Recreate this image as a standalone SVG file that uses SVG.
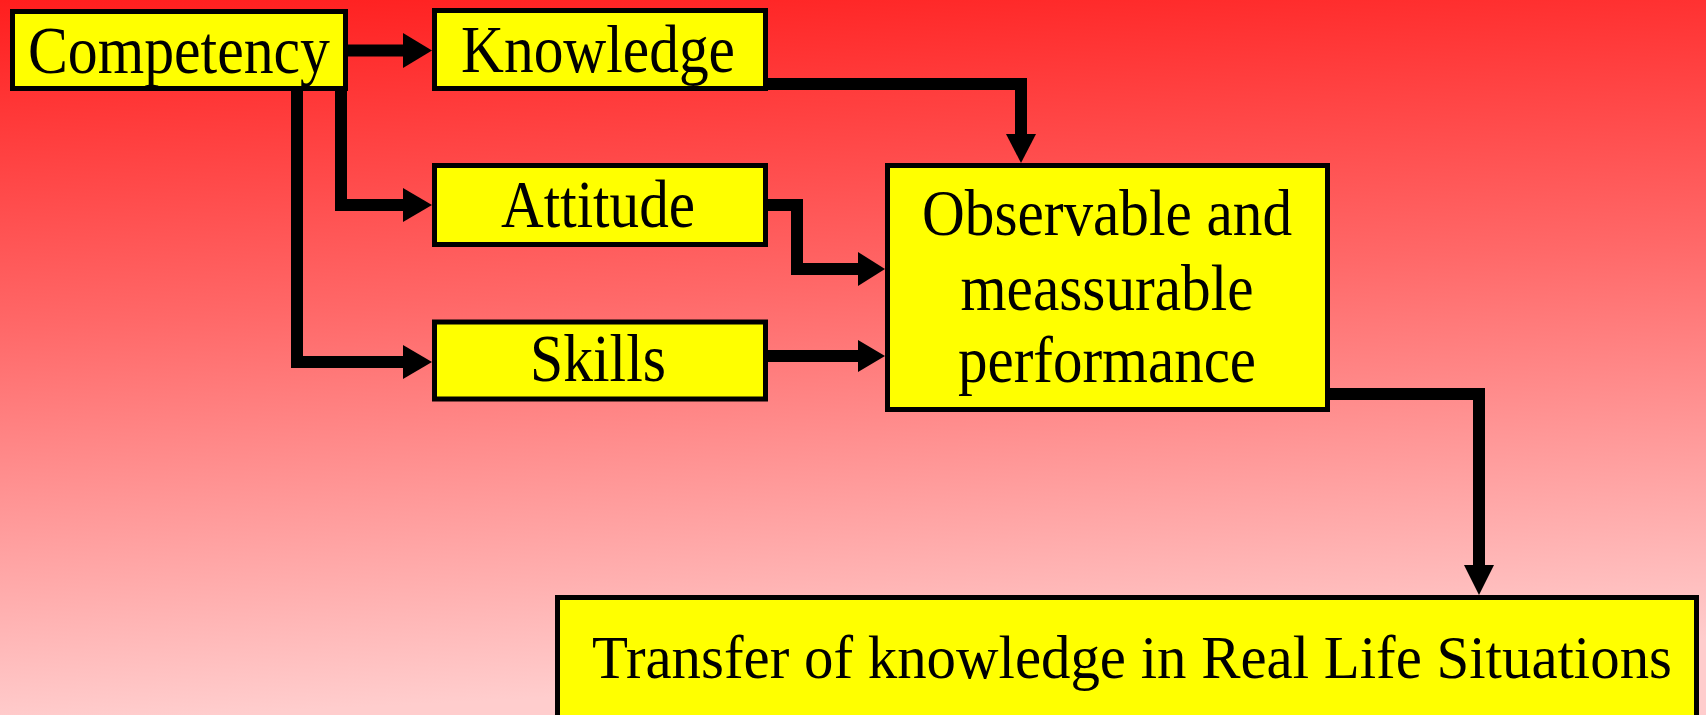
<svg xmlns="http://www.w3.org/2000/svg" width="1706" height="715" viewBox="0 0 1706 715">
  <defs>
    <linearGradient id="bg" x1="0" y1="0" x2="0.12" y2="1">
      <stop offset="0" stop-color="#ff1e1e"/>
      <stop offset="0.45" stop-color="#ff6868"/>
      <stop offset="1" stop-color="#ffcdcd"/>
    </linearGradient>
    <style>
      .box { fill: #ffff00; stroke: #000000; stroke-width: 5; }
      .lbl { font-family: "Liberation Serif", "Times New Roman", serif; font-size: 68px; fill: #000000; text-anchor: middle; }
      .mid { font-size: 66px; }
      .big { font-size: 62px; }
      .wire { fill: none; stroke: #000000; stroke-width: 12; stroke-linejoin: miter; stroke-linecap: butt; }
      .head { fill: #000000; }
    </style>
  </defs>
  <rect x="0" y="0" width="1706" height="715" fill="url(#bg)"/>

  <g id="connectors">
    <path class="wire" d="M346 50.5 H406"/>
    <polygon class="head" points="432,50.5 403,33 403,68"/>
    <path class="wire" d="M341 88 V205 H406"/>
    <polygon class="head" points="432,205 403,188 403,222"/>
    <path class="wire" d="M297 88 V362 H406"/>
    <polygon class="head" points="432,362 403,345 403,379"/>
    <path class="wire" d="M766 84 H1021 V137"/>
    <polygon class="head" points="1021,163 1006,134 1036,134"/>
    <path class="wire" d="M766 205 H797 V269 H860"/>
    <polygon class="head" points="885,269 858,252 858,286"/>
    <path class="wire" d="M766 356 H860"/>
    <polygon class="head" points="885,356 858,340 858,372"/>
    <path class="wire" d="M1328 394 H1479 V568"/>
    <polygon class="head" points="1479,595 1464,565 1494,565"/>
  </g>

  <g id="competency">
    <rect class="box" x="12.5" y="11.5" width="333" height="77"/>
    <text class="lbl" x="179" y="73" textLength="302" lengthAdjust="spacingAndGlyphs">Competency</text>
  </g>
  <g id="knowledge">
    <rect class="box" x="434.5" y="10.5" width="331" height="78"/>
    <text class="lbl" x="598" y="72" textLength="274" lengthAdjust="spacingAndGlyphs">Knowledge</text>
  </g>
  <g id="attitude">
    <rect class="box" x="434.5" y="165.5" width="331" height="79"/>
    <text class="lbl" x="598" y="227" textLength="194" lengthAdjust="spacingAndGlyphs">Attitude</text>
  </g>
  <g id="skills">
    <rect class="box" x="434.5" y="322" width="331" height="77"/>
    <text class="lbl" x="598" y="381" textLength="136" lengthAdjust="spacingAndGlyphs">Skills</text>
  </g>
  <g id="observable">
    <rect class="box" x="887.5" y="165.5" width="440" height="244"/>
    <text class="lbl mid" x="1107" y="235" textLength="370" lengthAdjust="spacingAndGlyphs">Observable and</text>
    <text class="lbl mid" x="1107" y="310" textLength="293" lengthAdjust="spacingAndGlyphs">meassurable</text>
    <text class="lbl mid" x="1107" y="382" textLength="298" lengthAdjust="spacingAndGlyphs">performance</text>
  </g>
  <g id="transfer">
    <rect class="box" x="557.5" y="597.5" width="1139" height="130"/>
    <text class="lbl big" x="1132" y="678" textLength="1080" lengthAdjust="spacingAndGlyphs">Transfer of knowledge in Real Life Situations</text>
  </g>
</svg>
